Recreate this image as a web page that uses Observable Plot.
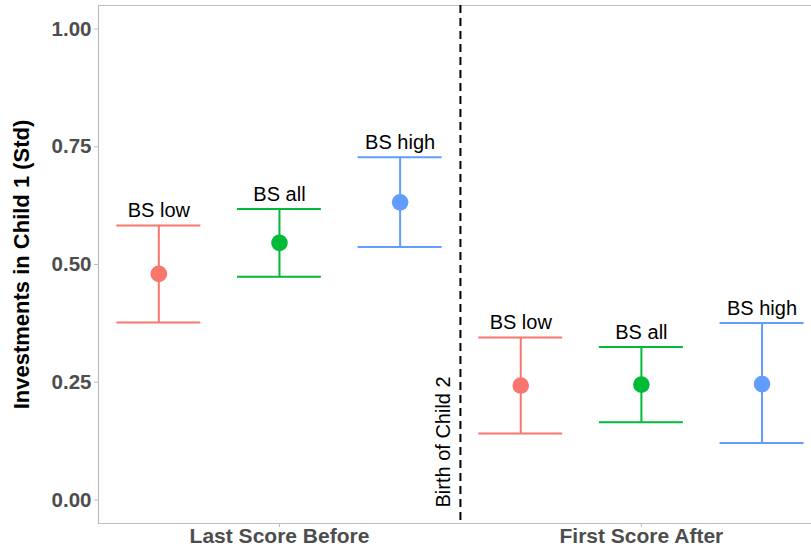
<!DOCTYPE html>
<html>
<head>
<meta charset="utf-8">
<script src="https://cdn.jsdelivr.net/npm/d3@7"></script>
<script src="https://cdn.jsdelivr.net/npm/@observablehq/plot@0.6"></script>
<style>
  body { margin: 0; background: #fff; }
</style>
</head>
<body>
<div id="chart"></div>
<script>
// valores
const periods = ['Last Score Before', 'First Score After']
const groups = ['BS low', 'BS all', 'BS high']
const colors = ['#F8766D', '#00BA38', '#619CFF']
const estimate = [
  [0.480, 0.546, 0.632],
  [0.243, 0.245, 0.246],
]
const lower = [
  [0.377, 0.474, 0.537],
  [0.141, 0.165, 0.121],
]
const upper = [
  [0.583, 0.618, 0.728],
  [0.345, 0.325, 0.376],
]
const yTicks = [0, 0.25, 0.5, 0.75, 1]
const yLabel = 'Investments in Child 1 (Std)'
const birthLabel = 'Birth of Child 2'
const birthX = 1.5

// escalas
const xDomain = [0.5, 2.47]
const yDomain = [-0.05, 1.05]
const dodge = 1 / 3
const capHalf = 0.116
const border = '#bdbdbd'
const font = 'Liberation Sans, Arial, Helvetica, sans-serif'

const data = periods.flatMap((p, i) =>
  groups.map((g, j) => ({
    period: p,
    group: g,
    pos: i + 1 + (j - 1) * dodge,
    est: estimate[i][j],
    lo: lower[i][j],
    hi: upper[i][j],
  })),
)

let chart = Plot.plot({
  width: 811,
  height: 547,
  marginLeft: 98,
  marginRight: 0,
  marginTop: 5,
  marginBottom: 24,
  style: { fontFamily: font, background: '#fff', overflow: 'visible' },
  x: { type: 'linear', domain: xDomain },
  y: { domain: yDomain },
  color: { domain: groups, range: colors },
  marks: [
    // borde del panel (izq, arriba, abajo)
    Plot.ruleY(yDomain, { stroke: border, strokeWidth: 1.2 }),
    Plot.ruleX([xDomain[0]], { stroke: border, strokeWidth: 1.2 }),
    Plot.axisY({
      ticks: yTicks,
      tickFormat: d3.format('.2f'),
      tickSize: 4,
      tickPadding: 3,
      fontSize: 20.5,
      fontWeight: 'bold',
      fill: '#4d4d4d',
      stroke: border,
      label: null,
    }),
    Plot.axisX({
      ticks: [1, 2],
      tickFormat: d => periods[d - 1],
      tickSize: 4,
      tickPadding: 1,
      fontSize: 21,
      fontWeight: 'bold',
      fill: '#4d4d4d',
      stroke: border,
      label: null,
    }),
    Plot.text([yLabel], {
      text: d => d,
      frameAnchor: 'left',
      rotate: -90,
      textAnchor: 'middle',
      dx: -85,
      lineAnchor: 'top',
      fontSize: 22,
      fontWeight: 'bold',
      fill: 'black',
    }),
    Plot.ruleX([birthX], {
      stroke: 'black',
      strokeWidth: 2,
      strokeDasharray: '8,5',
    }),
    Plot.text([birthLabel], {
      text: d => d,
      x: () => birthX,
      frameAnchor: 'bottom',
      rotate: -90,
      textAnchor: 'start',
      lineAnchor: 'bottom',
      dx: -10,
      dy: -16,
      fontSize: 20,
      fill: 'black',
    }),
    Plot.ruleX(data, { x: 'pos', y1: 'lo', y2: 'hi', stroke: 'group', strokeWidth: 2 }),
    Plot.ruleY(data, {
      y: 'lo',
      x1: d => d.pos - capHalf,
      x2: d => d.pos + capHalf,
      stroke: 'group',
      strokeWidth: 2,
    }),
    Plot.ruleY(data, {
      y: 'hi',
      x1: d => d.pos - capHalf,
      x2: d => d.pos + capHalf,
      stroke: 'group',
      strokeWidth: 2,
    }),
    Plot.dot(data, { x: 'pos', y: 'est', fill: 'group', r: 8.3 }),
    Plot.text(data, {
      x: 'pos',
      y: 'hi',
      text: 'group',
      dy: -8,
      lineAnchor: 'bottom',
      fontSize: 20,
      fill: 'black',
    }),
  ],
})
d3.select('#chart').append(() => chart)
</script>
</body>
</html>
